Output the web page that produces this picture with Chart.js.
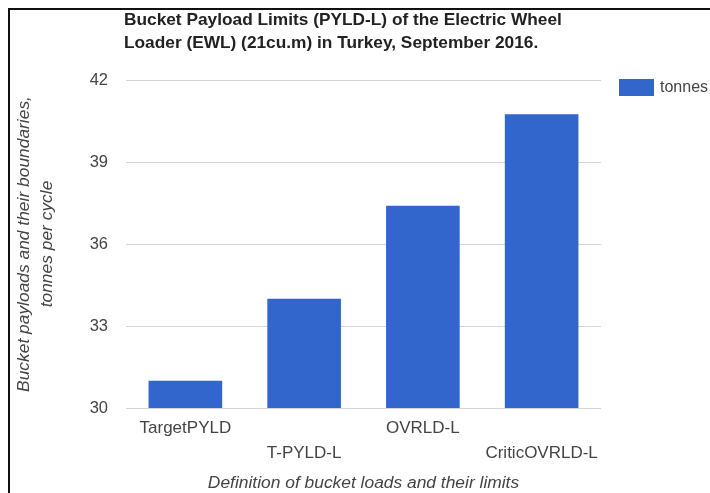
<!DOCTYPE html>
<html>
<head>
<meta charset="utf-8">
<script src="https://cdn.jsdelivr.net/npm/chart.js@4.4.1/dist/chart.umd.min.js"></script>
<style>
  html, body { margin: 0; padding: 0; background: #fff; }
  #wrap { position: relative; width: 710px; height: 493px; overflow: hidden; }
  #frame {
    position: absolute; left: 8px; top: 8px; width: 800px; height: 600px;
    border-top: 2px solid #111; border-left: 2px solid #111; pointer-events: none;
  }
</style>
</head>
<body>
<div id="wrap">
  <canvas id="chart" width="710" height="493"></canvas>
  <div id="frame"></div>
</div>
<script>
const categories = ["TargetPYLD", "T-PYLD-L", "OVRLD-L", "CriticOVRLD-L"];
const tonnes = [31.0, 34.0, 37.4, 40.75];
const yTicks = [30, 33, 36, 39, 42];
const seriesName = "tonnes";
const titleLines = [
    "Bucket Payload Limits (PYLD-L) of the Electric Wheel",
    "Loader (EWL) (21cu.m) in Turkey, September 2016."
];
const yTitle = ["Bucket payloads and their boundaries,", "tonnes per cycle"];
const xTitle = "Definition of bucket loads and their limits";

const barColor = "#3366cc";
const textColor = "#444";
const fontFamily = "Arial, 'Liberation Sans', sans-serif";

// title + legend drawn by hand, Google-chart style
const extras = {
    id: "extras",
    afterDraw(chart) {
        const ctx = chart.ctx;
        ctx.save();
        ctx.fillStyle = "#222";
        ctx.font = "bold 17.3px " + fontFamily;
        ctx.textBaseline = "middle";
        ctx.textAlign = "left";
        titleLines.forEach((t, i) => ctx.fillText(t, 124, 20 + i * 23));

        // legend
        const ds = chart.data.datasets[0];
        ctx.fillStyle = ds.backgroundColor;
        ctx.fillRect(619, 79, 35, 17);
        ctx.fillStyle = textColor;
        ctx.font = "16px " + fontFamily;
        ctx.fillText(ds.label, 660, 88);
        ctx.restore();
    }
};

new Chart(document.getElementById("chart"), {
    type: "bar",
    data: {
        labels: categories,
        datasets: [{
            label: seriesName,
            data: tonnes,
            backgroundColor: barColor,
            barPercentage: 0.62,
            categoryPercentage: 1
        }]
    },
    options: {
        responsive: false,
        animation: false,
        layout: { padding: { top: 80, right: 109, left: 0, bottom: 0 } },
        plugins: {
            legend: { display: false },
            title: { display: false },
            tooltip: { enabled: false }
        },
        scales: {
            x: {
                grid: { display: false },
                border: { display: false },
                afterFit: s => { s.height = 85; },
                ticks: {
                    autoSkip: false,
                    maxRotation: 0,
                    minRotation: 0,
                    padding: 0,
                    color: textColor,
                    font: { family: fontFamily, size: 17, lineHeight: 1.47 },
                    callback: (v, i) => i % 2 ? ["", categories[i]] : [categories[i]]
                },
                title: {
                    display: true,
                    text: xTitle,
                    color: textColor,
                    padding: { top: 0, bottom: 0 },
                    font: { family: fontFamily, size: 17.4, style: "italic", lineHeight: 1.1 }
                }
            },
            y: {
                min: yTicks[0],
                max: yTicks[yTicks.length - 1],
                afterFit: s => { s.width = 126; },
                afterBuildTicks: s => { s.ticks = yTicks.map(v => ({ value: v })); },
                grid: { color: "#d4d4d4", drawTicks: false },
                border: { display: false },
                ticks: {
                    padding: 18,
                    color: textColor,
                    font: { family: fontFamily, size: 16.5 }
                },
                title: {
                    display: true,
                    text: yTitle,
                    color: textColor,
                    padding: { top: 13, bottom: 0 },
                    font: { family: fontFamily, size: 17.4, style: "italic", lineHeight: 1.3 }
                }
            }
        }
    },
    plugins: [extras]
});
</script>
</body>
</html>
